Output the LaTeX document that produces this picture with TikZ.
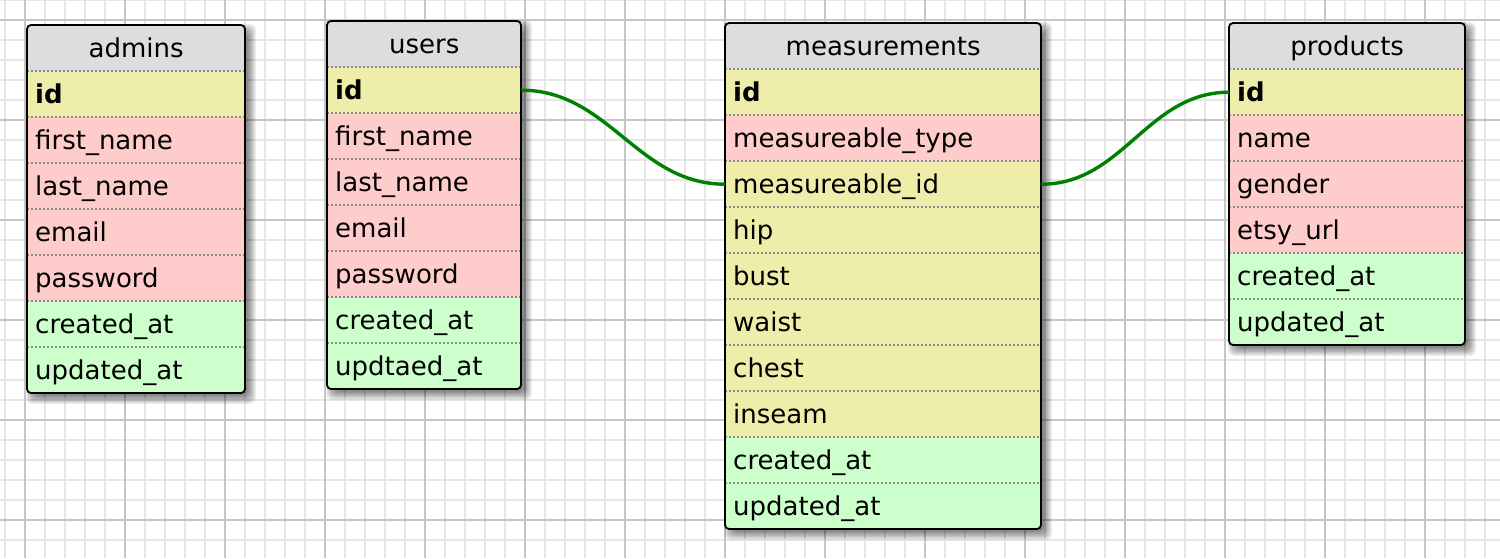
\documentclass[tikz,border=0pt]{standalone}
\usepackage{fontspec}
\setmainfont{DejaVu Sans}
\definecolor{hdrc}{HTML}{DDDDDD}
\definecolor{keyc}{HTML}{EEEEAA}
\definecolor{strc}{HTML}{FFCCCC}
\definecolor{timc}{HTML}{CCFFCC}
\definecolor{minorc}{HTML}{E6E6E6}
\definecolor{majorc}{HTML}{C6C6C6}
\definecolor{linkc}{HTML}{008000}
\definecolor{sepc}{HTML}{8C8C8C}
\tikzset{
 minorline/.style={minorc, line width=2pt},
 majorline/.style={majorc, line width=2pt},
 cellbase/.style={anchor=north west, minimum height=46pt, inner ysep=0pt, font=\fontsize{26}{31}\selectfont, draw=none, text height=24pt, text depth=6pt},
 hdrcell/.style={cellbase, fill=hdrc, align=center, inner xsep=0pt},
 rowcell/.style={cellbase, align=left, inner xsep=8pt},
 sepline/.style={sepc, line width=1.5pt, dash pattern=on 2pt off 2pt},
 tblborder/.style={black, line width=1.8pt, rounded corners=4pt},
 shadowlayer/.style={black, opacity=0.06, rounded corners=6pt},
 link/.style={linkc, line width=3.4pt},
}
\newcommand\ertable[7]{%
 \pgfmathsetmacro\tblH{46*(#5+1)}%
 \pgfmathsetmacro\tblTW{#4-16}%
 \foreach \e in {0,...,12} \fill[shadowlayer] ({#2+11-\e},{#3+11-\e}) rectangle ({#2+#4-1+\e},{#3+\tblH-1+\e});
 \begin{scope}
  \clip[rounded corners=4pt] (#2,#3) rectangle ++(#4,\tblH);
  \node[hdrcell, minimum width=#4pt] (#1-head) at (#2,#3) {#6};
  \foreach \k/\t/\c [count=\i] in {#7} {
    \node[rowcell, fill=\c, text width=\tblTW pt] (#1-\k) at (#2,{#3+46*\i}) {\t};
  }
  \foreach \i in {1,...,#5} \draw[sepline] (#2,{#3+46*\i}) -- ++(#4,0);
 \end{scope}
 \draw[tblborder] (#2,#3) rectangle ++(#4,\tblH);
}
\begin{document}
\begin{tikzpicture}[x=1pt,y=-1pt]
\useasboundingbox (0,0) rectangle (1500,558);
\fill[white] (0,0) rectangle (1500,558);
\foreach \x in {5,25,...,1500} \draw[minorline] (\x,0) -- (\x,558);
\foreach \y in {0,20,...,558} \draw[minorline] (0,\y) -- (1500,\y);
\foreach \x in {25,125,...,1500} \draw[majorline] (\x,0) -- (\x,558);
\foreach \y in {20,120,...,558} \draw[majorline] (0,\y) -- (1500,\y);

\ertable{admins}{27}{25}{218}{7}{admins}{id/\textbf{id}/keyc, fn/first\_name/strc, ln/last\_name/strc, em/email/strc, pw/password/strc, ca/created\_at/timc, ua/updated\_at/timc}
\ertable{users}{327}{21}{194}{7}{users}{id/\textbf{id}/keyc, fn/first\_name/strc, ln/last\_name/strc, em/email/strc, pw/password/strc, ca/created\_at/timc, ua/updtaed\_at/timc}
\ertable{meas}{725}{23}{316}{10}{measurements}{id/\textbf{id}/keyc, mt/measureable\_type/strc, mid/measureable\_id/keyc, hip/hip/keyc, bust/bust/keyc, waist/waist/keyc, chest/chest/keyc, ins/inseam/keyc, ca/created\_at/timc, ua/updated\_at/timc}
\ertable{prod}{1229}{23}{236}{6}{products}{id/\textbf{id}/keyc, nm/name/strc, gd/gender/strc, eu/etsy\_url/strc, ca/created\_at/timc, ua/updated\_at/timc}

\draw[link] (users-id.east) to[out=0,in=180] (meas-mid.west);
\draw[link] (prod-id.west) to[out=180,in=0] (meas-mid.east);
\end{tikzpicture}
\end{document}
